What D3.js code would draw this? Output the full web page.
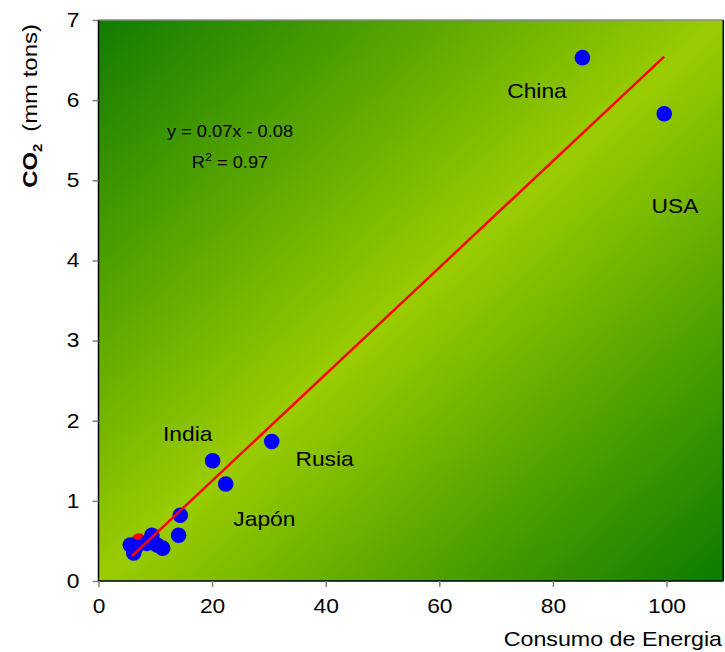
<!DOCTYPE html>
<html>
<head>
<meta charset="utf-8">
<script src="https://cdn.jsdelivr.net/npm/d3@7"></script>
<style>
  html, body { margin: 0; padding: 0; background: #ffffff; }
  svg { display: block; font-family: Arial, "Liberation Sans", sans-serif; }
</style>
</head>
<body>
<svg id="chart" width="725" height="652"></svg>
<script>
// Energy consumption vs CO2 emissions by country
const energy = [5.6, 6.2, 6.6, 8.5, 9.4, 10.3, 11.3, 14.1, 14.4, 20.1, 22.4, 30.5, 85.2, 99.6];
const co2    = [0.45, 0.35, 0.42, 0.47, 0.57, 0.45, 0.41, 0.57, 0.82, 1.50, 1.21, 1.74, 6.53, 5.83];
const highlightPoint = [7.1, 0.50];

const countryNames = ["China", "USA", "Rusia", "India", "Japón"];
const countryLabelAt = [[77.2, 6.12], [101.5, 4.68], [39.8, 1.52], [15.7, 1.84], [29.2, 0.77]];

const trendSlope = 0.0665;
const trendIntercept = -0.08;
const rSquared = 0.97;

const xTicks = [0, 20, 40, 60, 80, 100];
const yTicks = [0, 1, 2, 3, 4, 5, 6, 7];

// text is drawn slightly widened along its own direction
const STRETCH = 1.14;
const FONT = "Arial, 'Liberation Sans', sans-serif";

const svg = d3.select("#chart");

const x = d3.scaleLinear().domain([0, 110]).range([98.5, 723.3]);
const y = d3.scaleLinear().domain([0, 7]).range([581, 20]);

// diagonal background gradient: dark corners, bright band across the middle
const defs = svg.append("defs");
const grad = defs.append("linearGradient")
  .attr("id", "bg").attr("x1", 0).attr("y1", 0).attr("x2", 1).attr("y2", 1);
[[0, "#117c00"], [0.5, "#9acc00"], [1, "#0c7b00"]].forEach(([o, c]) =>
  grad.append("stop").attr("offset", o).attr("stop-color", c));

svg.append("rect")
  .attr("x", x(0)).attr("y", y(7))
  .attr("width", x(110) - x(0)).attr("height", y(0) - y(7))
  .attr("fill", "url(#bg)");

// frame
svg.append("line").attr("x1", x(0)).attr("x2", x(110)).attr("y1", y(7)).attr("y2", y(7))
  .attr("stroke", "#8a8a8a").attr("stroke-width", 1.5);
svg.append("line").attr("x1", x(110)).attr("x2", x(110)).attr("y1", y(7)).attr("y2", y(0))
  .attr("stroke", "#000").attr("stroke-width", 1.5);

// axes
const xAxis = svg.append("g").attr("transform", `translate(0,${y(0)})`)
  .call(d3.axisBottom(x).tickValues(xTicks).tickSize(6).tickPadding(12).tickFormat(d3.format("d")));
const yAxis = svg.append("g").attr("transform", `translate(${x(0)},0)`)
  .call(d3.axisLeft(y).tickValues(yTicks).tickSize(6).tickPadding(13).tickFormat(d3.format("d")));

[xAxis, yAxis].forEach(g => {
  g.select(".domain").attr("stroke", "#000").attr("stroke-width", 1.5);
  g.selectAll(".tick line").attr("stroke", "#808080").attr("stroke-width", 1.5);
  g.selectAll(".tick text").attr("font-size", 20).attr("fill", "#000")
    .attr("font-family", FONT);
});
xAxis.select(".domain").attr("d", `M${x(0)},0H${x(110)}`);
yAxis.select(".domain").attr("d", `M0,${y(7)}V${y(0)}`);
// widen tick labels about their anchor
xAxis.selectAll(".tick text").attr("transform", `scale(${STRETCH},1)`);
yAxis.selectAll(".tick text").each(function () {
  const t = d3.select(this);
  const tx = +t.attr("x");
  t.attr("x", tx / STRETCH).attr("transform", `scale(${STRETCH},1)`);
});

// helper: text widened along its baseline, placed at (px, py), optionally rotated
function label(px, py, anchor, size, rotate = 0) {
  return svg.append("g")
    .attr("transform", `translate(${px},${py}) rotate(${rotate}) scale(${STRETCH},1)`)
    .append("text")
    .attr("text-anchor", anchor).attr("font-size", size)
    .attr("font-family", FONT).attr("fill", "#000");
}

// axis titles
label(722, 646, "end", 20.4).text("Consumo de Energia");

const yTitle = label(37, 106, "middle", 21, -90);
yTitle.append("tspan").attr("font-weight", "bold").text("CO");
yTitle.append("tspan").attr("font-weight", "bold").attr("font-size", 13).attr("dy", 5).text("2");
yTitle.append("tspan").attr("dy", -5).text("\u2002(mm tons)");

// highlighted point sits beneath the others
svg.append("circle")
  .attr("cx", x(highlightPoint[0])).attr("cy", y(highlightPoint[1]))
  .attr("r", 7.8).attr("fill", "#ff0000");

// data points
svg.append("g").selectAll("circle")
  .data(energy.map((e, i) => [e, co2[i]]))
  .join("circle")
  .attr("cx", d => x(d[0])).attr("cy", d => y(d[1]))
  .attr("r", 7.8).attr("fill", "#0000ff");

// linear trend line across the data range
const xMin = d3.min(energy) + 0.3, xMax = d3.max(energy);
svg.append("line")
  .attr("x1", x(xMin)).attr("y1", y(trendSlope * xMin + trendIntercept))
  .attr("x2", x(xMax)).attr("y2", y(trendSlope * xMax + trendIntercept))
  .attr("stroke", "#ff0000").attr("stroke-width", 2.5);

// country labels
countryNames.forEach((name, i) => {
  label(x(countryLabelAt[i][0]), y(countryLabelAt[i][1]) + 7, "middle", 20).text(name);
});

// trend equation
const fmt = d3.format(".2f");
label(230, 137, "middle", 16)
  .text(`y = ${fmt(trendSlope)}x ${trendIntercept < 0 ? "-" : "+"} ${fmt(Math.abs(trendIntercept))}`);
const r2 = label(230, 168, "middle", 16);
r2.append("tspan").text("R");
r2.append("tspan").attr("font-size", 11).attr("dy", -7).text("2");
r2.append("tspan").attr("dy", 7).text(` = ${fmt(rSquared)}`);
</script>
</body>
</html>
